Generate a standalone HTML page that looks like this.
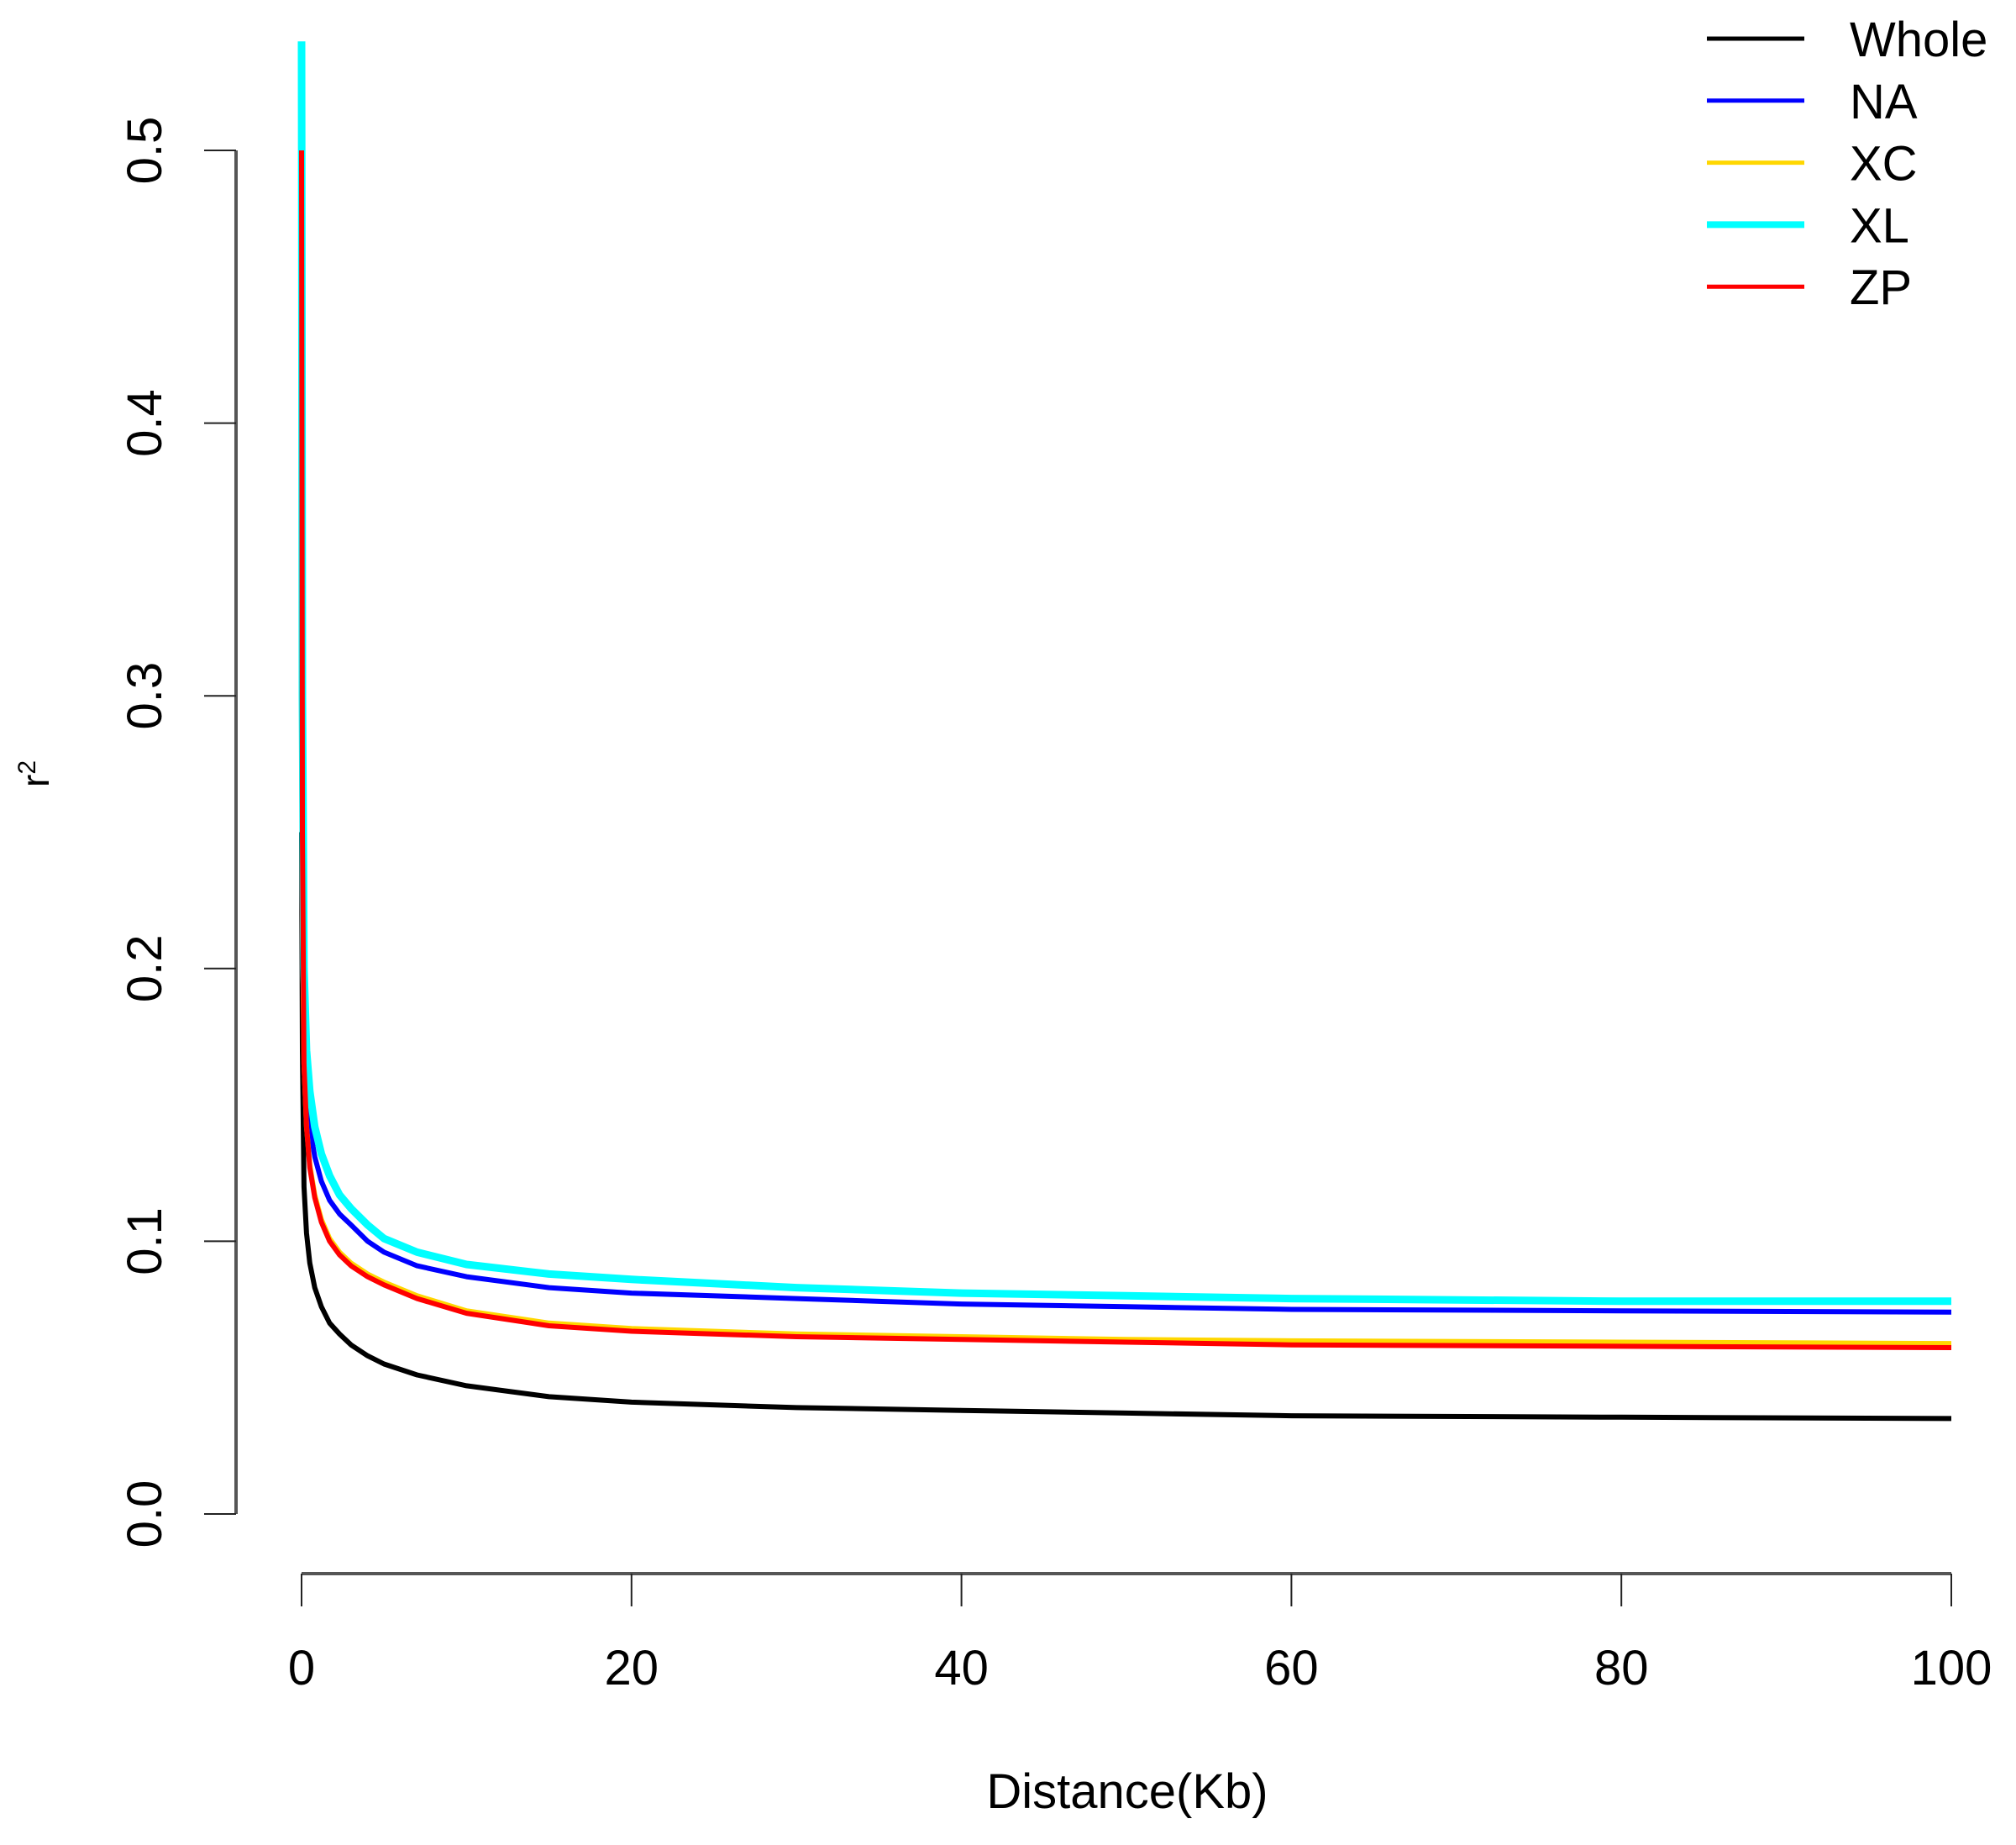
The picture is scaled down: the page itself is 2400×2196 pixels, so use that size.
<!DOCTYPE html>
<html><head><meta charset="utf-8"><style>
html,body{margin:0;padding:0;background:#fff}
svg text{font-family:"Liberation Sans",sans-serif;fill:#000}
</style></head><body>
<svg id="chart" width="2400" height="2191" viewBox="0 0 2400 2191" xmlns="http://www.w3.org/2000/svg">
<g id="axes"></g>
<g id="series"></g>
<g id="legend"></g>
</svg>
<script>
const xTicks = [0,20,40,60,80,100];
const yTicks = [0.0,0.1,0.2,0.3,0.4,0.5];
const yTickLabels = ["0.0","0.1","0.2","0.3","0.4","0.5"];
const distances = [0,0.05,0.15,0.3,0.5,0.8,1.2,1.7,2.3,3,4,5,7,10,15,20,30,40,50,60,80,100];
const seriesNames = ["Whole","NA","XC","XL","ZP"];
const seriesColors = ["#000000","#0000ff","#ffd700","#00ffff","#ff0000"];
const wholeVals = [0.25,0.17,0.12,0.103,0.092,0.083,0.076,0.070,0.066,0.062,0.058,0.055,0.051,0.047,0.043,0.041,0.039,0.038,0.037,0.036,0.0355,0.035];
const naVals = [0.30,0.22,0.175,0.155,0.142,0.131,0.122,0.115,0.110,0.106,0.100,0.096,0.091,0.087,0.083,0.081,0.079,0.077,0.076,0.075,0.0745,0.074];
const xcVals = [0.30,0.22,0.165,0.142,0.128,0.117,0.108,0.101,0.096,0.092,0.088,0.085,0.080,0.0745,0.070,0.068,0.066,0.065,0.064,0.0635,0.063,0.0625];
const xlVals = [0.54,0.30,0.20,0.170,0.155,0.142,0.132,0.124,0.117,0.112,0.106,0.101,0.096,0.0915,0.088,0.086,0.083,0.081,0.080,0.079,0.078,0.078];
const zpVals = [0.50,0.25,0.165,0.142,0.127,0.116,0.107,0.100,0.095,0.091,0.087,0.084,0.079,0.0736,0.069,0.067,0.065,0.064,0.063,0.062,0.0615,0.061];
const allVals = [wholeVals,naVals,xcVals,xlVals,zpVals];

const NS="http://www.w3.org/2000/svg";
const X0=359, X1=2323, Y0=1802, Y5=179, XAY=1873;
function xs(v){return X0+(X1-X0)*v/100;}
function ys(v){return Y0-(Y0-Y5)*v/0.5;}
function mk(tag,attrs,parent){const e=document.createElementNS(NS,tag);for(const k in attrs)e.setAttribute(k,attrs[k]);parent.appendChild(e);return e;}
const axes=document.getElementById('axes');
let yl=mk('line',{x1:281,y1:ys(0),x2:281,y2:ys(0.5),stroke:'#555','stroke-width':4},axes);


yTicks.forEach((t,i)=>{
  const y=ys(t);
  const tk=mk('line',{x1:243,y1:y,x2:281,y2:y,stroke:'#222','stroke-width':2},axes);
  
  
  const tx=mk('text',{x:0,y:0,'font-size':58,'text-anchor':'middle',transform:`translate(192,${y}) rotate(-90)`},axes);
  tx.textContent=yTickLabels[i];
  
  
});
let xl=mk('line',{x1:xs(0),y1:XAY,x2:xs(100),y2:XAY,stroke:'#555','stroke-width':4},axes);


xTicks.forEach(t=>{
  const x=xs(t);
  const tk=mk('line',{x1:x,y1:XAY,x2:x,y2:1912,stroke:'#222','stroke-width':2},axes);
  
  
  const tx=mk('text',{x:x,y:2005,'font-size':58,'text-anchor':'middle'},axes);
  tx.textContent=String(t);
  
  
});
const xt=mk('text',{x:1342,y:2152,'font-size':58,'text-anchor':'middle'},axes);
xt.textContent='Distance(Kb)';


const yt=mk('text',{x:0,y:0,'font-size':46,'text-anchor':'middle',transform:'translate(58,921) rotate(-90)'},axes);
yt.innerHTML='r<tspan baseline-shift="super" font-size="30">2</tspan>';


const sg=document.getElementById('series');
allVals.forEach((vals,si)=>{
  const d=vals.map((v,i)=>(i?'L':'M')+xs(distances[i]).toFixed(1)+','+ys(v).toFixed(1)).join(' ');
  const p=mk('path',{d:d,fill:'none',stroke:seriesColors[si],'stroke-width':si===3?9:6,'stroke-linejoin':'round'},sg);
  
  
});
const lg=document.getElementById('legend');
seriesNames.forEach((n,i)=>{
  const y=46+i*73.8;
  const l=mk('line',{x1:2032,y1:y,x2:2148,y2:y,stroke:seriesColors[i],'stroke-width':i===3?8:5},lg);
  
  
  const t=mk('text',{x:2202,y:y+21,'font-size':58},lg);
  t.textContent=n;
  
  
});
</script>
</body></html>
